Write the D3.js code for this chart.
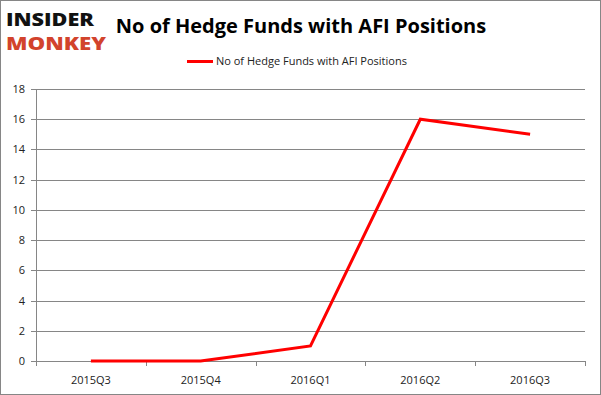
<!DOCTYPE html>
<html>
<head>
  <meta charset="utf-8">
  <script src="https://d3js.org/d3.v7.min.js"></script>
  <style>
    body { margin: 0; background: #fff; }
    text { font-family: "Open Sans", "DejaVu Sans", sans-serif; }
  </style>
</head>
<body>
<script>
  // chart data
  var quarters = ["2015Q3", "2015Q4", "2016Q1", "2016Q2", "2016Q3"];
  var funds = [0, 0, 1, 16, 15];
  var yTicks = [0, 2, 4, 6, 8, 10, 12, 14, 16, 18];
  var seriesName = "No of Hedge Funds with AFI Positions";

  var W = 601, H = 395;
  var svg = d3.select("body").append("svg")
    .attr("width", W).attr("height", H);

  // outer border
  svg.append("rect")
    .attr("x", 0.5).attr("y", 0.5)
    .attr("width", W - 1).attr("height", H - 1)
    .attr("fill", "#fff").attr("stroke", "#868686");

  var plotL = 36, plotR = 585, plotT = 89, plotB = 361;

  var x = d3.scaleBand().domain(quarters).range([plotL, plotR]);
  var y = d3.scaleLinear().domain([0, 18]).range([plotB, plotT]);

  // gridlines
  svg.append("g").selectAll("line").data(yTicks).join("line")
    .attr("x1", plotL - 5).attr("x2", plotR)
    .attr("y1", d => Math.round(y(d)) + 0.5).attr("y2", d => Math.round(y(d)) + 0.5)
    .attr("stroke", "#868686").attr("stroke-width", 1);

  // y axis line
  svg.append("line")
    .attr("x1", plotL + 0.5).attr("x2", plotL + 0.5)
    .attr("y1", plotT).attr("y2", plotB + 5)
    .attr("stroke", "#868686");

  // x tick marks
  var xEdges = quarters.map(q => x(q)).concat([plotR]);
  svg.append("g").selectAll("line").data(xEdges).join("line")
    .attr("x1", d => Math.round(d) + 0.5).attr("x2", d => Math.round(d) + 0.5)
    .attr("y1", plotB).attr("y2", plotB + 5)
    .attr("stroke", "#868686");

  // y tick labels
  svg.append("g").selectAll("text").data(yTicks).join("text")
    .attr("x", 25).attr("y", d => y(d) + 4)
    .attr("text-anchor", "end")
    .attr("font-size", 11).attr("fill", "#222")
    .text(d => d);

  // x labels
  svg.append("g").selectAll("text").data(quarters).join("text")
    .attr("x", d => x(d) + x.bandwidth() / 2)
    .attr("y", 384)
    .attr("text-anchor", "middle")
    .attr("font-size", 11).attr("fill", "#222")
    .text(d => d);

  // series line
  var line = d3.line()
    .x((d, i) => x(quarters[i]) + x.bandwidth() / 2)
    .y(d => y(d));
  svg.append("path")
    .datum(funds)
    .attr("d", line)
    .attr("fill", "none")
    .attr("stroke", "#ff0000")
    .attr("stroke-width", 3);

  // title
  svg.append("text")
    .attr("x", 301).attr("y", 33)
    .attr("text-anchor", "middle")
    .attr("font-size", 20).attr("font-weight", "bold")
    .attr("fill", "#000")
    .text(seriesName);

  // legend
  svg.append("line")
    .attr("x1", 187).attr("x2", 213)
    .attr("y1", 61.5).attr("y2", 61.5)
    .attr("stroke", "#ff0000").attr("stroke-width", 3);
  svg.append("text")
    .attr("x", 216).attr("y", 65)
    .attr("font-size", 11).attr("fill", "#222")
    .text(seriesName);

  // logo
  svg.append("text")
    .attr("x", 6).attr("y", 26)
    .attr("font-size", 18).attr("font-weight", "900")
    .attr("font-family", "Lato, sans-serif")
    .attr("textLength", 88).attr("lengthAdjust", "spacingAndGlyphs")
    .attr("fill", "#111")
    .text("INSIDER");
  svg.append("text")
    .attr("x", 6).attr("y", 50)
    .attr("font-size", 18).attr("font-weight", "900")
    .attr("font-family", "Lato, sans-serif")
    .attr("textLength", 100).attr("lengthAdjust", "spacingAndGlyphs")
    .attr("fill", "#d2432c")
    .text("MONKEY");
</script>
</body>
</html>
